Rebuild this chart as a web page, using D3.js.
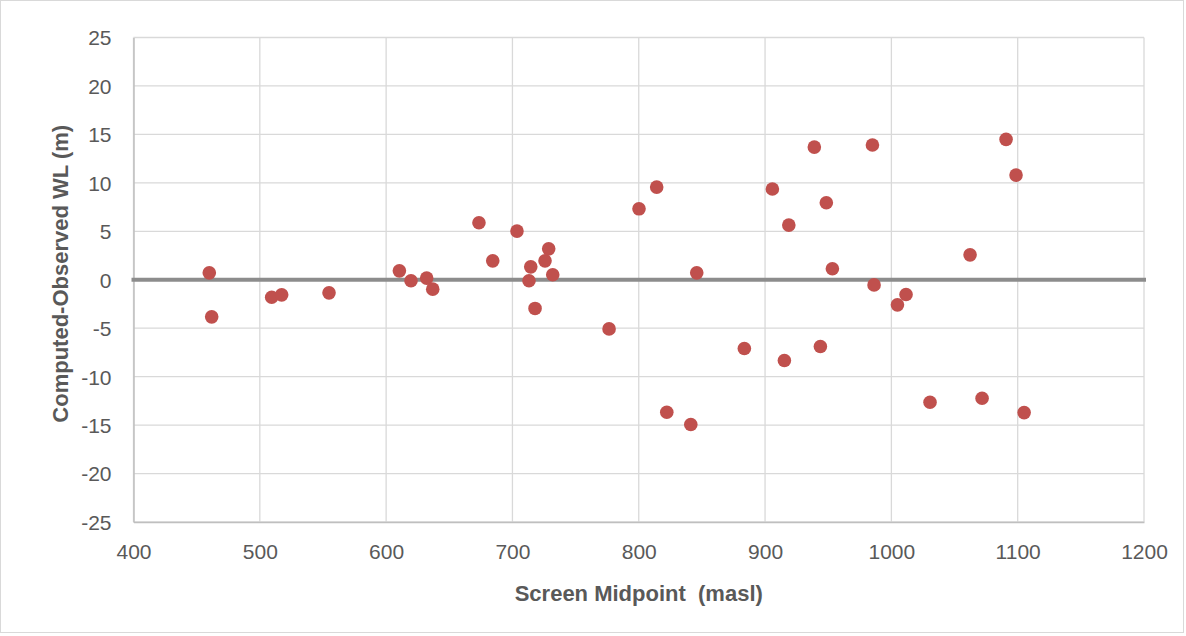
<!DOCTYPE html>
<html>
<head>
<meta charset="utf-8">
<script src="https://cdn.jsdelivr.net/npm/d3@7"></script>
<style>
  html, body { margin: 0; padding: 0; background: #fff; }
  #chrt { width: 1186px; height: 636px; }
</style>
</head>
<body>
<div id="chrt"></div>
<script>
// screen midpoint (masl) vs computed-observed water level (m)
const screenMid = [460.0, 461.9, 509.4, 517.3, 554.8, 610.5, 619.7, 632.1, 636.9, 673.5,
  684.4, 703.6, 713.1, 714.5, 717.9, 725.8, 728.7, 731.9, 776.5, 800.2,
  814.2, 822.2, 841.2, 845.9, 883.6, 905.8, 915.3, 918.8, 939.0, 943.8,
  948.5, 953.3, 985.0, 986.3, 1004.8, 1011.6, 1030.6, 1062.3, 1071.8, 1090.8,
  1098.7, 1105.1];
const residual = [0.71, -3.83, -1.80, -1.56, -1.35, 0.92, -0.11, 0.17, -0.97, 5.88,
  1.95, 5.02, -0.11, 1.33, -2.96, 1.95, 3.19, 0.51, -5.07, 7.32,
  9.56, -13.67, -14.94, 0.71, -7.09, 9.36, -8.33, 5.64, 13.69, -6.89,
  7.94, 1.13, 13.90, -0.53, -2.59, -1.52, -12.64, 2.57, -12.23, 14.49,
  10.80, -13.71];
const xTicks = [400, 500, 600, 700, 800, 900, 1000, 1100, 1200];
const yTicks = [-25, -20, -15, -10, -5, 0, 5, 10, 15, 20, 25];
const xTitle = 'Screen Midpoint\u00a0 (masl)';
const yTitle = 'Computed-Observed WL (m)';

const width = 1186, height = 636;
const margin = {top: 37.5, right: 42, bottom: 114, left: 133.5};
const plotW = width - margin.left - margin.right;
const plotH = height - margin.top - margin.bottom;
const fontFam = '"Liberation Sans", Arial, sans-serif';

const svg = d3.select('#chrt').append('svg')
    .attr('width', width)
    .attr('height', height);

// outer chart border
svg.append('rect')
    .attr('x', 0.5).attr('y', 0.5)
    .attr('width', width - 3).attr('height', height - 4)
    .attr('fill', '#fff')
    .attr('stroke', '#d9d9d9');

const scaleX = d3.scaleLinear().domain([400, 1200]).range([0, plotW]);
const scaleY = d3.scaleLinear().domain([-25, 25]).range([plotH, 0]);

const g = svg.append('g')
    .attr('transform', 'translate(' + margin.left + ',' + margin.top + ')');

// gridlines
g.append('g').selectAll('line')
    .data(xTicks)
    .enter().append('line')
    .attr('x1', d => scaleX(d)).attr('x2', d => scaleX(d))
    .attr('y1', 0).attr('y2', plotH)
    .attr('stroke', '#d9d9d9').attr('stroke-width', 1.3);
g.append('g').selectAll('line')
    .data(yTicks)
    .enter().append('line')
    .attr('x1', 0).attr('x2', plotW)
    .attr('y1', d => scaleY(d)).attr('y2', d => scaleY(d))
    .attr('stroke', '#d9d9d9').attr('stroke-width', 1.3);

// axes: plain integer labels with ascii hyphen, as Excel prints them
const plainFmt = (d) => String(d);
const xAxis = g.append('g')
    .attr('transform', 'translate(0,' + plotH + ')')
    .call(d3.axisBottom(scaleX).tickValues(xTicks).tickFormat(plainFmt).tickSize(0).tickPadding(22));
const yAxis = g.append('g')
    .call(d3.axisLeft(scaleY).tickValues(yTicks).tickFormat(plainFmt).tickSize(0).tickPadding(22));
[xAxis, yAxis].forEach(ax => {
  ax.select('.domain').attr('stroke', '#bfbfbf').attr('stroke-width', 1.5);
  ax.selectAll('text')
      .attr('fill', '#595959')
      .style('font-family', fontFam)
      .style('font-size', '21px');
});
xAxis.selectAll('text').attr('dy', '0.71em');
yAxis.selectAll('text').attr('dy', '0.35em');

// zero reference line
g.append('line')
    .attr('x1', scaleX(400) - 2).attr('x2', scaleX(1200) + 2)
    .attr('y1', scaleY(0)).attr('y2', scaleY(0))
    .attr('stroke', '#8c8c8c').attr('stroke-width', 4);

// points
g.append('g').selectAll('circle')
    .data(screenMid.map((x, i) => ({x: x, y: residual[i]})))
    .enter().append('circle')
    .attr('cx', d => scaleX(d.x))
    .attr('cy', d => scaleY(d.y))
    .attr('r', 6.8)
    .attr('fill', '#c0504d');

// axis titles
svg.append('text')
    .attr('x', margin.left + plotW / 2)
    .attr('y', 601)
    .attr('text-anchor', 'middle')
    .attr('fill', '#595959')
    .style('font-family', fontFam)
    .style('font-size', '22px')
    .style('font-weight', 'bold')
    .text(xTitle);
svg.append('text')
    .attr('transform', 'translate(68,' + (margin.top + plotH / 2 - 6) + ') rotate(-90)')
    .attr('text-anchor', 'middle')
    .attr('fill', '#595959')
    .style('font-family', fontFam)
    .style('font-size', '22px')
    .style('font-weight', 'bold')
    .text(yTitle);
</script>
</body>
</html>
